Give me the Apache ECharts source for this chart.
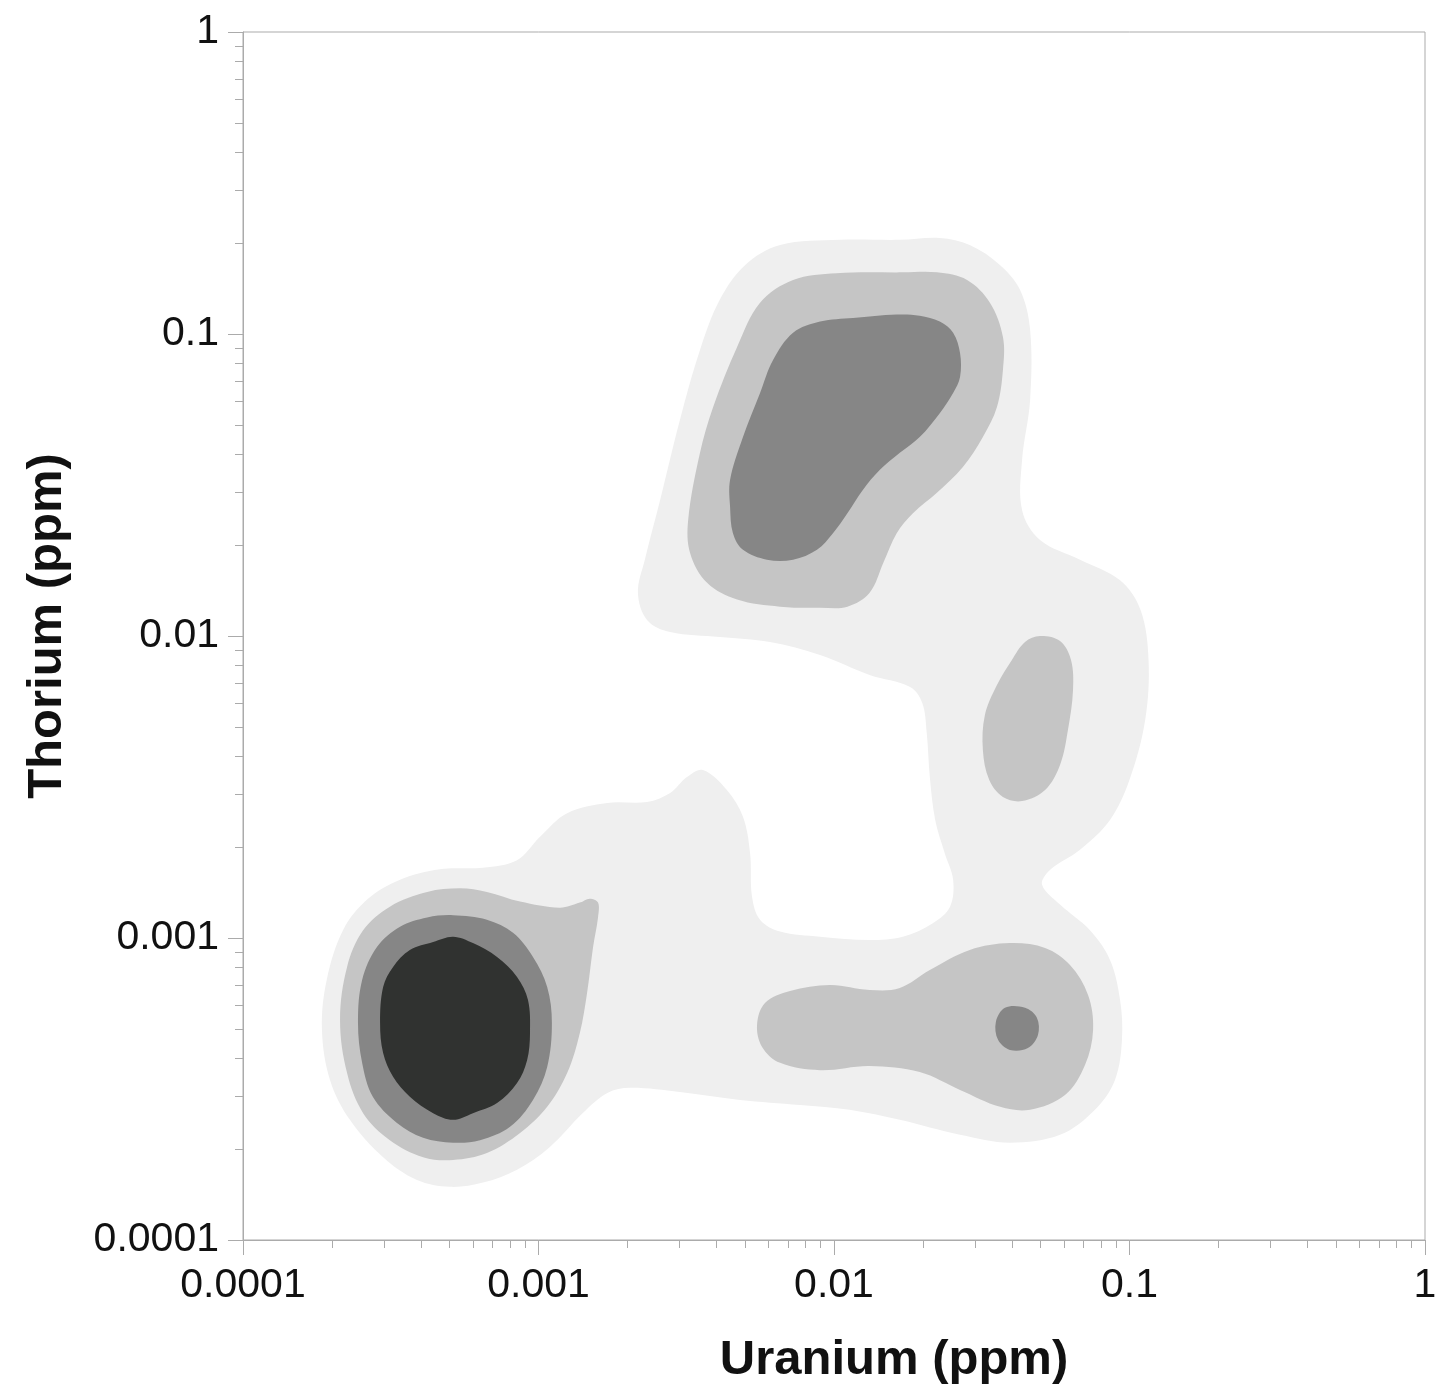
<!DOCTYPE html>
<html>
<head>
<meta charset="utf-8">
<script src="https://cdn.jsdelivr.net/npm/echarts@6/dist/echarts.min.js"></script>
<style>
html,body{margin:0;padding:0;background:#fff;}
#chart{width:1435px;height:1398px;}
</style>
</head>
<body>
<div id="chart"></div>
<script>
// ---- axis ticks ----
const majorTicks = [0.0001, 0.001, 0.01, 0.1, 1];
const majorTickLabels = ['0.0001', '0.001', '0.01', '0.1', '1'];
const minorTicks = [
  2e-4, 3e-4, 4e-4, 5e-4, 6e-4, 7e-4, 8e-4, 9e-4,
  2e-3, 3e-3, 4e-3, 5e-3, 6e-3, 7e-3, 8e-3, 9e-3,
  2e-2, 3e-2, 4e-2, 5e-2, 6e-2, 7e-2, 8e-2, 9e-2,
  2e-1, 3e-1, 4e-1, 5e-1, 6e-1, 7e-1, 8e-1, 9e-1
];

// ---- contour polygons: [Uranium ppm, Thorium ppm] ----
// level 1 (lowest density, lightest)
const level1Outer = [
  [2.17e-3,1.39e-2],[2.29e-3,1.79e-2],[2.58e-3,2.82e-2],[3.01e-3,5.19e-2],[3.52e-3,8.85e-2],
  [4.11e-3,1.30e-1],[5.00e-3,1.69e-1],[6.57e-3,1.97e-1],[1.05e-2,2.05e-1],[1.67e-2,2.05e-1],
  [2.28e-2,2.08e-1],[2.88e-2,1.97e-1],[3.65e-2,1.69e-1],[4.26e-2,1.40e-1],[4.61e-2,1.03e-1],
  [4.61e-2,6.05e-2],[4.33e-2,3.83e-2],[4.33e-2,2.61e-2],[4.98e-2,2.08e-2],[6.80e-2,1.79e-2],
  [9.29e-2,1.53e-2],[1.09e-1,1.22e-2],[1.16e-1,8.33e-3],[1.13e-1,5.27e-3],[1.00e-1,3.34e-3],
  [8.59e-2,2.46e-3],[6.80e-2,1.96e-3],[5.38e-2,1.68e-3],[5.06e-2,1.50e-3],[5.82e-2,1.29e-3],
  [7.35e-2,1.06e-3],[8.59e-2,8.46e-4],[9.29e-2,6.24e-4],[9.43e-2,4.60e-4],[8.93e-2,3.39e-4],
  [7.64e-2,2.70e-4],[5.82e-2,2.23e-4],[3.94e-2,2.10e-4],[2.67e-2,2.23e-4],[1.67e-2,2.50e-4],
  [1.13e-2,2.70e-4],[7.68e-3,2.80e-4],[4.81e-3,2.91e-4],[3.01e-3,3.09e-4],[2.04e-3,3.19e-4],
  [1.71e-3,3.07e-4],[1.41e-3,2.63e-4],[1.09e-3,2.03e-4],[8.46e-4,1.71e-4],[6.49e-4,1.55e-4],
  [5.02e-4,1.50e-4],[3.88e-4,1.58e-4],[2.98e-4,1.88e-4],[2.30e-4,2.50e-4],[1.97e-4,3.39e-4],
  [1.85e-4,4.96e-4],[1.92e-4,7.26e-4],[2.18e-4,1.06e-3],[2.63e-4,1.34e-3],[3.40e-4,1.56e-3],
  [4.64e-4,1.69e-3],[6.49e-4,1.71e-3],[8.46e-4,1.81e-3],[1.01e-3,2.16e-3],[1.25e-3,2.59e-3],
  [1.71e-3,2.80e-3],[2.33e-3,2.82e-3],[2.79e-3,3.02e-3],[3.18e-3,3.41e-3],[3.60e-3,3.60e-3],
  [4.34e-3,3.09e-3],[4.92e-3,2.52e-3],[5.20e-3,1.91e-3],[5.28e-3,1.37e-3],[5.62e-3,1.15e-3],
  [6.57e-3,1.05e-3],[8.97e-3,1.01e-3],[1.32e-2,9.85e-4],[1.71e-2,1.01e-3],[2.16e-2,1.12e-3],
  [2.47e-2,1.27e-3],[2.53e-2,1.56e-3],[2.37e-2,1.91e-3],[2.20e-2,2.46e-3],[2.11e-2,3.41e-3],
  [2.06e-2,4.77e-3],[1.99e-2,6.00e-3],[1.81e-2,6.78e-3],[1.32e-2,7.43e-3],[8.97e-3,8.65e-3],
  [6.07e-3,9.55e-3],[4.11e-3,9.92e-3],[2.79e-3,1.03e-2],[2.33e-3,1.13e-2]
];
// level 2
const level2Top = [
  [3.21e-3,2.42e-2],[3.52e-3,4.04e-2],[3.90e-3,5.73e-2],[4.70e-3,9.06e-2],[5.62e-3,1.27e-1],
  [7.27e-3,1.51e-1],[1.02e-2,1.59e-1],[1.71e-2,1.60e-1],[2.23e-2,1.60e-1],[2.82e-2,1.51e-1],
  [3.37e-2,1.27e-1],[3.73e-2,9.77e-2],[3.73e-2,7.60e-2],[3.56e-2,5.73e-2],[3.19e-2,4.56e-2],
  [2.73e-2,3.63e-2],[2.23e-2,2.98e-2],[1.85e-2,2.55e-2],[1.63e-2,2.19e-2],[1.47e-2,1.75e-2],
  [1.32e-2,1.39e-2],[1.11e-2,1.25e-2],[8.97e-3,1.24e-2],[6.57e-3,1.25e-2],[4.70e-3,1.32e-2],
  [3.72e-3,1.50e-2],[3.26e-3,1.88e-2]
];
const level2Right = [
  [4.98e-2,1.00e-2],[5.82e-2,9.62e-3],[6.34e-2,8.33e-3],[6.44e-2,6.62e-3],[6.19e-2,4.88e-3],
  [5.82e-2,3.74e-3],[5.18e-2,3.09e-3],[4.33e-2,2.84e-3],[3.73e-2,2.93e-3],[3.35e-2,3.34e-3],
  [3.19e-2,4.19e-3],[3.24e-2,5.47e-3],[3.56e-2,6.88e-3],[4.00e-2,8.33e-3],[4.43e-2,9.55e-3]
];
const level2LowRight = [
  [5.49e-3,5.15e-4],[5.84e-3,6.09e-4],[7.10e-3,6.68e-4],[9.69e-3,6.99e-4],[1.32e-2,6.73e-4],
  [1.67e-2,6.83e-4],[2.11e-2,7.83e-4],[2.88e-2,9.13e-4],[3.94e-2,9.62e-4],[5.18e-2,9.27e-4],
  [6.29e-2,8.14e-4],[7.24e-2,6.48e-4],[7.53e-2,4.96e-4],[7.07e-2,3.80e-4],[6.05e-2,3.02e-4],
  [4.61e-2,2.70e-4],[3.65e-2,2.76e-4],[2.67e-2,3.14e-4],[1.95e-2,3.60e-4],[1.32e-2,3.77e-4],
  [8.97e-3,3.65e-4],[6.57e-3,3.86e-4],[5.71e-3,4.36e-4]
];
const level2LowLeft = [
  [2.13e-4,5.35e-4],[2.25e-4,8.02e-4],[2.55e-4,1.06e-3],[3.14e-4,1.27e-3],[4.20e-4,1.42e-3],
  [5.42e-4,1.46e-3],[6.69e-4,1.42e-3],[8.66e-4,1.32e-3],[1.18e-3,1.26e-3],[1.38e-3,1.31e-3],
  [1.49e-3,1.35e-3],[1.59e-3,1.31e-3],[1.59e-3,1.17e-3],[1.53e-3,9.34e-4],[1.46e-3,6.58e-4],
  [1.38e-3,4.85e-4],[1.25e-3,3.57e-4],[1.07e-3,2.76e-4],[8.66e-4,2.26e-4],[6.69e-4,1.94e-4],
  [5.14e-4,1.84e-4],[4.07e-4,1.88e-4],[3.14e-4,2.14e-4],[2.55e-4,2.63e-4],[2.25e-4,3.57e-4]
];
// level 3
const level3Top = [
  [4.45e-3,2.67e-2],[4.45e-3,3.29e-2],[4.92e-3,4.56e-2],[5.62e-3,6.38e-2],[6.22e-3,8.20e-2],
  [7.27e-3,1.01e-1],[8.97e-3,1.10e-1],[1.16e-2,1.13e-1],[1.63e-2,1.16e-1],[1.95e-2,1.15e-1],
  [2.28e-2,1.10e-1],[2.53e-2,1.01e-1],[2.67e-2,8.65e-2],[2.67e-2,7.20e-2],[2.53e-2,6.38e-2],
  [2.28e-2,5.47e-2],[1.95e-2,4.56e-2],[1.67e-2,4.04e-2],[1.43e-2,3.55e-2],[1.25e-2,3.04e-2],
  [1.11e-2,2.55e-2],[9.92e-3,2.19e-2],[8.76e-3,1.93e-2],[7.27e-3,1.79e-2],[5.93e-3,1.79e-2],
  [4.92e-3,1.93e-2],[4.55e-3,2.19e-2]
];
const level3Dot = [
  [3.79e-2,5.87e-4],[4.43e-2,5.87e-4],[4.86e-2,5.44e-4],[4.90e-2,4.77e-4],
  [4.53e-2,4.32e-4],[3.94e-2,4.26e-4],[3.59e-2,4.60e-4],[3.53e-2,5.27e-4]
];
const level3LowLeft = [
  [2.45e-4,5.23e-4],[2.53e-4,7.26e-4],[2.84e-4,9.34e-4],[3.40e-4,1.09e-3],[4.20e-4,1.17e-3],
  [5.14e-4,1.19e-3],[6.69e-4,1.15e-3],[8.20e-4,1.04e-3],[9.58e-4,8.65e-4],[1.07e-3,6.88e-4],
  [1.11e-3,5.23e-4],[1.07e-3,3.74e-4],[9.58e-4,2.91e-4],[8.01e-4,2.37e-4],[6.34e-4,2.14e-4],
  [5.14e-4,2.10e-4],[4.07e-4,2.18e-4],[3.32e-4,2.44e-4],[2.75e-4,2.98e-4],[2.53e-4,3.86e-4]
];
// level 4 (highest density, darkest)
const level4Core = [
  [2.91e-4,5.23e-4],[2.98e-4,6.88e-4],[3.22e-4,8.02e-4],[3.67e-4,9.13e-4],[4.40e-4,9.70e-4],
  [5.14e-4,1.01e-3],[6.00e-4,9.62e-4],[7.24e-4,8.65e-4],[8.46e-4,7.43e-4],[9.21e-4,6.24e-4],
  [9.36e-4,4.85e-4],[9.15e-4,3.94e-4],[8.46e-4,3.31e-4],[7.24e-4,2.84e-4],[6.00e-4,2.63e-4],
  [5.14e-4,2.50e-4],[4.40e-4,2.63e-4],[3.67e-4,2.98e-4],[3.22e-4,3.47e-4],[2.98e-4,4.16e-4]
];

const levelColors = ['#efefef', '#c5c5c5', '#868686', '#303230'];
const levelPolygons = [
  [level1Outer],
  [level2Top, level2Right, level2LowRight, level2LowLeft],
  [level3Top, level3Dot, level3LowLeft],
  [level4Core]
];

const FONT = '"Liberation Sans", Arial, Helvetica, sans-serif';
const AXIS_COLOR = '#ababab';

function fmtTick(v) {
  for (let i = 0; i < majorTicks.length; i++) {
    if (Math.abs(Math.log10(v) - Math.log10(majorTicks[i])) < 1e-6) return majorTickLabels[i];
  }
  return '';
}

const contourSeries = levelPolygons.map((polys, li) => ({
  type: 'custom',
  name: 'level ' + (li + 1),
  coordinateSystem: 'cartesian2d',
  xAxisIndex: 0,
  yAxisIndex: 0,
  silent: true,
  z: 2 + li,
  data: polys.map(p => [p[0][0], p[0][1]]),
  renderItem: function (params, api) {
    const poly = polys[params.dataIndex];
    const pts = poly.map(v => api.coord(v));
    return {
      type: 'polygon',
      shape: { points: pts, smooth: 0.35 },
      style: { fill: levelColors[li], stroke: null }
    };
  }
}));

function mainAxis(isX) {
  return {
    type: 'log',
    logBase: 10,
    min: 0.0001,
    max: 1,
    position: isX ? 'bottom' : 'left',
    axisLine: { show: true, onZero: false, lineStyle: { color: AXIS_COLOR, width: 1 } },
    axisTick: { show: true, length: 15, inside: false, lineStyle: { color: AXIS_COLOR, width: 1 } },
    minorTick: { show: false },
    splitLine: { show: false },
    axisLabel: {
      show: true, fontSize: 41, color: '#111', fontFamily: FONT,
      margin: isX ? 25 : 24, formatter: fmtTick,
      showMinLabel: true, showMaxLabel: true, hideOverlap: false
    }
  };
}
function minorAxis(isX) {
  return {
    type: 'log',
    logBase: 10,
    min: 0.0001,
    max: 1,
    position: isX ? 'bottom' : 'left',
    axisLine: { show: false, onZero: false },
    axisTick: { show: true, length: 8, inside: false, customValues: minorTicks, lineStyle: { color: AXIS_COLOR, width: 1 } },
    axisLabel: { show: false },
    minorTick: { show: false },
    splitLine: { show: false }
  };
}

const chart = echarts.init(document.getElementById('chart'), null, { renderer: 'canvas' });
chart.setOption({
  animation: false,
  backgroundColor: '#ffffff',
  grid: {
    left: 243, top: 32, right: 10, bottom: 158,
    containLabel: false, outerBoundsMode: 'none',
    show: true, borderColor: AXIS_COLOR, borderWidth: 1, backgroundColor: 'transparent'
  },
  xAxis: [mainAxis(true), minorAxis(true)],
  yAxis: [mainAxis(false), minorAxis(false)],
  graphic: [
    {
      type: 'text', x: 894, y: 1360, silent: true,
      style: { text: 'Uranium (ppm)', fontSize: 49, fontWeight: 'bold', fontFamily: FONT, fill: '#111', align: 'center', verticalAlign: 'middle' }
    },
    {
      type: 'text', x: 47, y: 626, rotation: Math.PI / 2, silent: true,
      style: { text: 'Thorium (ppm)', fontSize: 49, fontWeight: 'bold', fontFamily: FONT, fill: '#111', align: 'center', verticalAlign: 'middle' }
    }
  ],
  series: contourSeries
});
</script>
</body>
</html>
